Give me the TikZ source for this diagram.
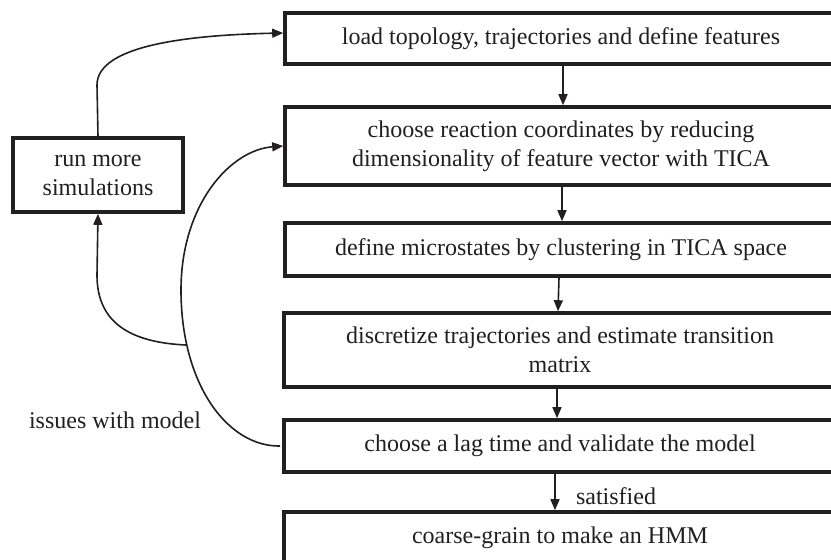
\documentclass[tikz,border=0pt]{standalone}
\usepackage{fontspec}
\setmainfont{Liberation Serif}
\usetikzlibrary{arrows.meta}
\definecolor{ink}{rgb}{0.13,0.12,0.12}
\tikzset{
  stepbox/.style={draw=ink, line width=3.6pt, minimum width=552pt, inner sep=0pt,
    align=center, text=ink, font=\fontsize{24}{29}\selectfont},
  lbl/.style={text=ink, font=\fontsize{24}{29}\selectfont, inner sep=0pt},
  arr/.style={draw=ink, line width=1.6pt, -{Triangle[length=11pt,width=9pt]}},
  curve/.style={draw=ink, line width=1.6pt},
}
\begin{document}
\begin{tikzpicture}[x=1pt,y=-1pt]
\useasboundingbox (0,0) rectangle (831,560);
\clip (0,0) rectangle (831,560);
\node[stepbox, minimum height=51pt] (b1) at (561,38.5) {load topology, trajectories and define features};
\node[stepbox, minimum height=78pt] (b2) at (561,146) {choose reaction coordinates by reducing\\dimensionality of feature vector with TICA};
\node[stepbox, minimum height=53pt] (b3) at (561,249.5) {define microstates by clustering in TICA space};
\node[stepbox, minimum height=74pt] (b4) at (560,350) {discretize trajectories and estimate transition\\matrix};
\node[stepbox, minimum height=52pt] (b5) at (560,446) {choose a lag time and validate the model};
\node[stepbox, minimum height=52pt] (b6) at (560,538) {coarse-grain to make an HMM};
\node[stepbox, minimum width=170pt, minimum height=74pt] (rms) at (98,175) {run more\\simulations};
\node[lbl] (iss) at (115,420) {issues with model};
\node[lbl] (sat) at (616,496) {satisfied};
% straight arrows
\draw[arr] ([xshift=2pt]b1.south) -- ([xshift=2pt]b2.north);
\draw[arr] ([xshift=1pt]b2.south) -- ([xshift=1pt]b3.north);
\draw[arr] ([xshift=-2pt]b3.south) -- ([xshift=-2pt]b4.north);
\draw[arr] ([xshift=-3pt]b4.south) -- ([xshift=-3pt]b5.north);
\draw[arr] ([xshift=-5pt]b5.south) -- ([xshift=-5pt]b6.north);
% top curve
\coordinate (tc) at (97,85);
\draw[arr] (rms.north) -- (tc) .. controls (97,45) and (190,35) .. ([yshift=5.5pt]b1.west);
% big curve
\draw[arr] ([xshift=-2pt]b5.west) .. controls (228,447) and (181,385) .. (181,290)
  .. controls (181,205) and (230,150) .. (b2.west);
% branch
\coordinate (jn) at (186,345);
\coordinate (bc) at (97,275);
\draw[arr] (jn) .. controls (120,342) and (97,315) .. (bc) -- (rms.south);
\end{tikzpicture}
\end{document}
